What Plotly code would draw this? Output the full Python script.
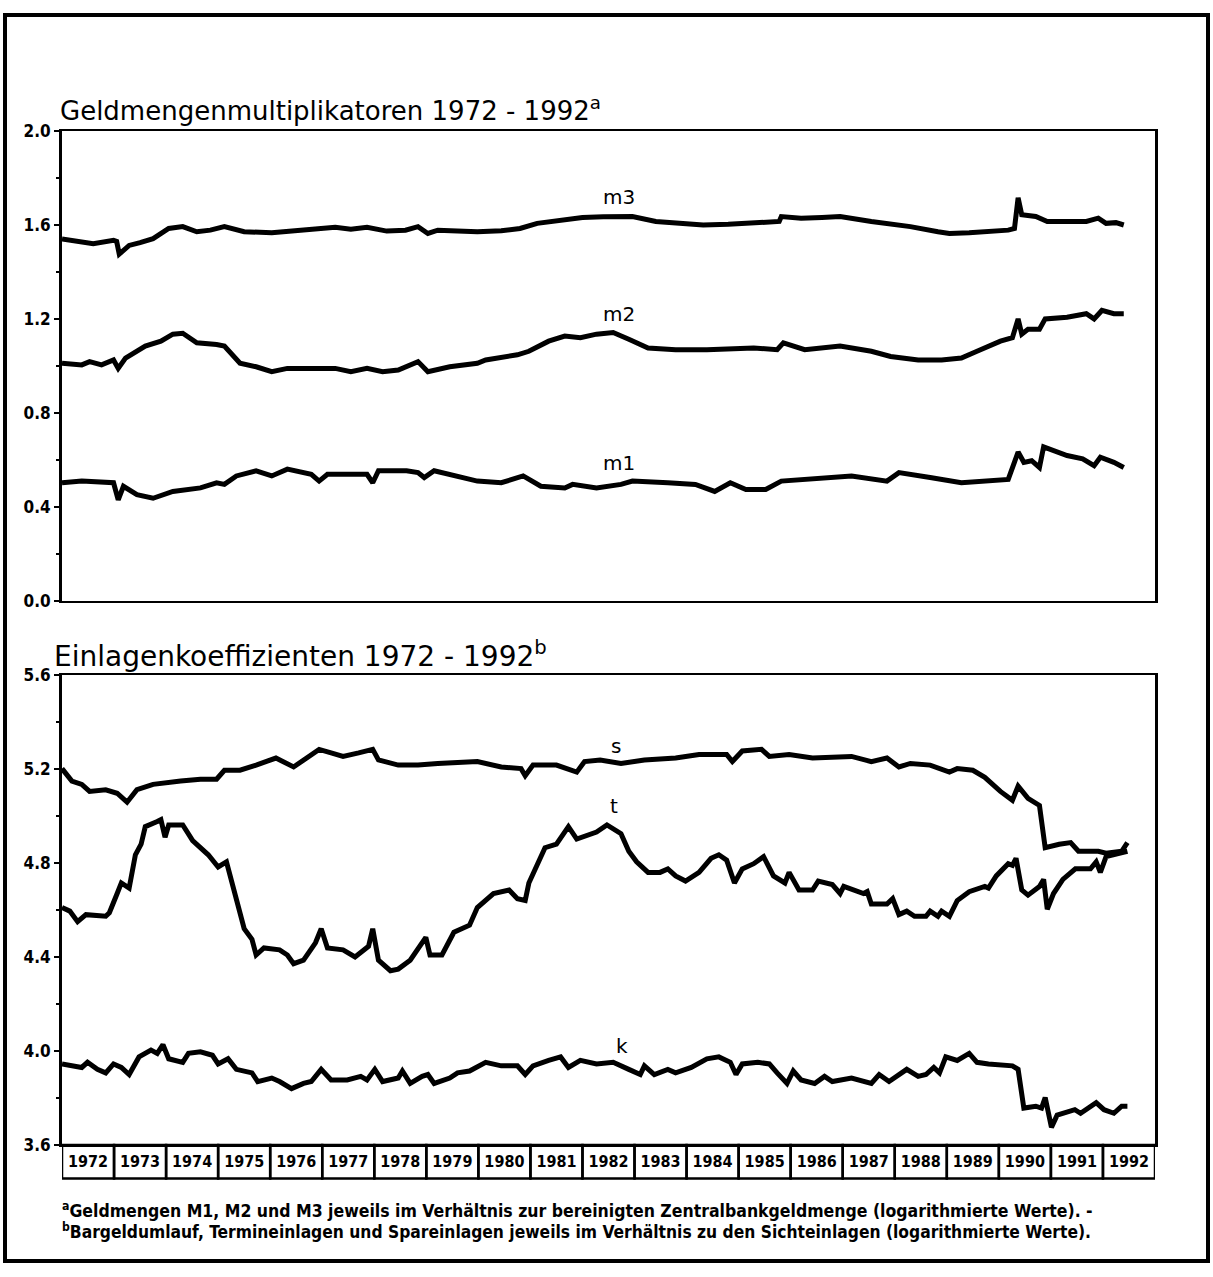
import plotly.graph_objects as go

# ---------------- data (decimal years, log values) ----------------
years = list(range(1972, 1993))
year_labels = [str(y) for y in years]
top_ticks = [0.0, 0.4, 0.8, 1.2, 1.6, 2.0]
bottom_ticks = [3.6, 4.0, 4.4, 4.8, 5.2, 5.6]

m3_t = [1972.0, 1972.3, 1972.6, 1972.99, 1973.05, 1973.1, 1973.29, 1973.5, 1973.75, 1974.05,
        1974.32, 1974.59, 1974.85, 1975.12, 1975.5, 1976.03, 1976.4, 1976.79, 1977.25, 1977.55,
        1977.86, 1978.24, 1978.6, 1978.84, 1979.03, 1979.22, 1979.6, 1979.98, 1980.44, 1980.8,
        1981.13, 1981.4, 1981.66, 1982.0, 1982.4, 1982.96, 1983.41, 1983.9, 1984.32, 1984.8,
        1985.29, 1985.78, 1985.82, 1986.2, 1986.6, 1986.95, 1987.55, 1987.9, 1988.3, 1988.83,
        1989.05, 1989.43, 1989.8, 1990.18, 1990.3, 1990.37, 1990.44, 1990.71, 1990.93, 1991.3,
        1991.68, 1991.91, 1992.06, 1992.25, 1992.4]
m3_v = [1.54, 1.53, 1.52, 1.535, 1.53, 1.476, 1.513, 1.525, 1.542, 1.585,
        1.593, 1.571, 1.578, 1.593, 1.571, 1.567, 1.575, 1.581, 1.59, 1.582,
        1.59, 1.574, 1.578, 1.593, 1.564, 1.578, 1.572, 1.571, 1.575, 1.585,
        1.607, 1.615, 1.625, 1.632, 1.635, 1.636, 1.615, 1.605, 1.6, 1.603,
        1.607, 1.615, 1.636, 1.629, 1.632, 1.636, 1.615, 1.605, 1.593, 1.571,
        1.564, 1.567, 1.572, 1.578, 1.585, 1.716, 1.644, 1.636, 1.615, 1.613,
        1.615, 1.629, 1.607, 1.61, 1.6]

m2_t = [1972.0, 1972.38, 1972.53, 1972.76, 1972.99, 1973.08, 1973.22, 1973.6, 1973.9, 1974.13,
        1974.32, 1974.59, 1974.97, 1975.12, 1975.42, 1975.73, 1976.03, 1976.33, 1976.79, 1977.25,
        1977.55, 1977.86, 1978.16, 1978.46, 1978.84, 1979.03, 1979.45, 1979.98, 1980.14, 1980.75,
        1980.97, 1981.35, 1981.66, 1981.96, 1982.27, 1982.59, 1982.89, 1983.26, 1983.79, 1984.39,
        1985.29, 1985.74, 1985.86, 1986.27, 1986.95, 1987.55, 1987.92, 1988.45, 1988.9, 1989.28,
        1989.58, 1990.03, 1990.26, 1990.37, 1990.44, 1990.56, 1990.78, 1990.89, 1991.31, 1991.68,
        1991.83, 1991.98, 1992.21, 1992.4]
m2_v = [1.011, 1.004, 1.018, 1.004, 1.025, 0.989, 1.033, 1.084, 1.105, 1.135,
        1.139, 1.098, 1.091, 1.084, 1.011, 0.996, 0.975, 0.989, 0.989, 0.989,
        0.975, 0.989, 0.975, 0.982, 1.018, 0.975, 0.996, 1.011, 1.025, 1.047,
        1.062, 1.105, 1.127, 1.12, 1.135, 1.142, 1.113, 1.076, 1.069, 1.069,
        1.076, 1.069, 1.098, 1.069, 1.084, 1.062, 1.04, 1.025, 1.025, 1.033,
        1.062, 1.105, 1.12, 1.2, 1.135, 1.156, 1.156, 1.2, 1.207, 1.222,
        1.2, 1.236, 1.222, 1.222]

m1_t = [1972.0, 1972.38, 1972.99, 1973.08, 1973.18, 1973.44, 1973.75, 1974.13, 1974.66, 1974.97,
        1975.12, 1975.35, 1975.73, 1976.03, 1976.33, 1976.79, 1976.94, 1977.1, 1977.86, 1977.97,
        1978.08, 1978.62, 1978.84, 1978.96, 1979.15, 1979.98, 1980.44, 1980.86, 1981.2, 1981.66,
        1981.81, 1982.27, 1982.74, 1982.96, 1983.64, 1984.17, 1984.54, 1984.84, 1985.14, 1985.52,
        1985.82, 1986.35, 1987.17, 1987.85, 1988.08, 1988.68, 1989.28, 1990.18, 1990.37, 1990.48,
        1990.63, 1990.78, 1990.86, 1991.31, 1991.61, 1991.83, 1991.95, 1992.21, 1992.4]
m1_v = [0.502, 0.509, 0.502, 0.429, 0.487, 0.451, 0.436, 0.465, 0.48, 0.502,
        0.495, 0.531, 0.553, 0.531, 0.56, 0.538, 0.509, 0.538, 0.538, 0.502,
        0.553, 0.553, 0.545, 0.524, 0.553, 0.509, 0.502, 0.531, 0.487, 0.48,
        0.495, 0.48, 0.495, 0.509, 0.502, 0.495, 0.465, 0.502, 0.473, 0.473,
        0.509, 0.516, 0.531, 0.509, 0.545, 0.524, 0.502, 0.516, 0.633, 0.589,
        0.596, 0.567, 0.655, 0.618, 0.604, 0.575, 0.611, 0.589, 0.567]

s_t = [1972.0, 1972.19, 1972.38, 1972.53, 1972.84, 1973.06, 1973.25, 1973.44, 1973.75, 1973.98,
       1974.28, 1974.66, 1974.97, 1975.12, 1975.42, 1975.73, 1976.11, 1976.45, 1976.71, 1976.94,
       1977.17, 1977.4, 1977.7, 1977.97, 1978.08, 1978.46, 1978.84, 1979.22, 1979.98, 1980.44,
       1980.82, 1980.9, 1981.05, 1981.5, 1981.89, 1982.04, 1982.34, 1982.74, 1983.19, 1983.79,
       1984.24, 1984.77, 1984.88, 1985.07, 1985.44, 1985.59, 1985.97, 1986.42, 1987.17, 1987.55,
       1987.85, 1988.08, 1988.3, 1988.68, 1989.05, 1989.2, 1989.5, 1989.73, 1990.03, 1990.26,
       1990.37, 1990.56, 1990.78, 1990.89, 1991.16, 1991.38, 1991.53, 1991.91, 1992.06, 1992.36,
       1992.47]
s_v = [5.203, 5.15, 5.136, 5.106, 5.113, 5.098, 5.06, 5.113, 5.136, 5.143,
       5.15, 5.158, 5.158, 5.196, 5.196, 5.218, 5.248, 5.21, 5.248, 5.285,
       5.27, 5.255, 5.27, 5.285, 5.24, 5.218, 5.218, 5.225, 5.233, 5.21,
       5.203, 5.173, 5.218, 5.218, 5.188, 5.233, 5.24, 5.225, 5.24, 5.248,
       5.263, 5.263, 5.233, 5.278, 5.285, 5.255, 5.263, 5.248, 5.255, 5.233,
       5.248, 5.21, 5.225, 5.218, 5.188, 5.203, 5.196, 5.166, 5.106, 5.068,
       5.128, 5.076, 5.046, 4.866, 4.881, 4.888, 4.851, 4.851, 4.843, 4.851,
       4.888]

t_t = [1972.0, 1972.15, 1972.3, 1972.46, 1972.84, 1972.91, 1973.06, 1973.14, 1973.29, 1973.41,
       1973.52, 1973.6, 1973.83, 1973.9, 1973.98, 1974.05, 1974.32, 1974.51, 1974.81, 1975.0,
       1975.16, 1975.27, 1975.42, 1975.5, 1975.65, 1975.73, 1975.88, 1976.18, 1976.33, 1976.45,
       1976.64, 1976.87, 1976.98, 1977.1, 1977.4, 1977.63, 1977.89, 1977.97, 1978.08, 1978.31,
       1978.46, 1978.69, 1978.99, 1979.07, 1979.3, 1979.53, 1979.83, 1979.98, 1980.29, 1980.59,
       1980.75, 1980.9, 1980.97, 1981.28, 1981.5, 1981.73, 1981.89, 1982.27, 1982.47, 1982.74,
       1982.89, 1983.04, 1983.26, 1983.49, 1983.64, 1983.79, 1983.98, 1984.24, 1984.47, 1984.62,
       1984.77, 1984.92, 1985.07, 1985.29, 1985.48, 1985.67, 1985.89, 1985.97, 1986.16, 1986.42,
       1986.53, 1986.8, 1986.95, 1987.02, 1987.4, 1987.47, 1987.55, 1987.85, 1987.96, 1988.08,
       1988.23, 1988.38, 1988.6, 1988.68, 1988.83, 1988.9, 1989.05, 1989.2, 1989.43, 1989.73,
       1989.8, 1989.95, 1990.18, 1990.26, 1990.33, 1990.44, 1990.56, 1990.78, 1990.86, 1990.93,
       1991.05, 1991.23, 1991.47, 1991.76, 1991.87, 1991.95, 1992.06, 1992.29, 1992.47]
t_v = [4.611, 4.596, 4.551, 4.581, 4.574, 4.589, 4.671, 4.716, 4.694, 4.836,
       4.881, 4.956, 4.978, 4.986, 4.911, 4.963, 4.963, 4.896, 4.836, 4.784,
       4.806, 4.716, 4.596, 4.521, 4.476, 4.409, 4.439, 4.431, 4.409, 4.372,
       4.387, 4.461, 4.521, 4.439, 4.431, 4.401, 4.446, 4.521, 4.387, 4.342,
       4.349, 4.387, 4.484, 4.409, 4.409, 4.506, 4.536, 4.611, 4.671, 4.686,
       4.649, 4.641, 4.716, 4.866, 4.881, 4.956, 4.903, 4.933, 4.963, 4.926,
       4.851, 4.806, 4.761, 4.761, 4.776, 4.746, 4.724, 4.761, 4.821, 4.836,
       4.813, 4.716, 4.776, 4.798, 4.828, 4.746, 4.716, 4.761, 4.686, 4.686,
       4.724, 4.709, 4.671, 4.701, 4.671, 4.679, 4.626, 4.626, 4.649, 4.581,
       4.596, 4.574, 4.574, 4.596, 4.574, 4.596, 4.574, 4.641, 4.679, 4.701,
       4.694, 4.746, 4.798, 4.791, 4.821, 4.686, 4.664, 4.701, 4.731, 4.604,
       4.671, 4.731, 4.776, 4.776, 4.806, 4.761, 4.828, 4.843, 4.851]

k_t = [1972.0, 1972.38, 1972.49, 1972.68, 1972.84, 1972.99, 1973.14, 1973.29, 1973.48, 1973.71,
       1973.83, 1973.94, 1974.05, 1974.32, 1974.43, 1974.66, 1974.89, 1975.0, 1975.19, 1975.35,
       1975.65, 1975.76, 1976.03, 1976.18, 1976.41, 1976.64, 1976.79, 1976.98, 1977.17, 1977.48,
       1977.74, 1977.86, 1978.01, 1978.16, 1978.46, 1978.54, 1978.69, 1978.92, 1979.03, 1979.15,
       1979.45, 1979.6, 1979.83, 1980.14, 1980.44, 1980.75, 1980.9, 1981.05, 1981.35, 1981.58,
       1981.73, 1981.96, 1982.27, 1982.59, 1982.89, 1983.11, 1983.19, 1983.38, 1983.64, 1983.79,
       1984.09, 1984.39, 1984.62, 1984.84, 1984.95, 1985.07, 1985.37, 1985.59, 1985.74, 1985.93,
       1986.05, 1986.2, 1986.46, 1986.65, 1986.8, 1987.17, 1987.55, 1987.7, 1987.89, 1988.23,
       1988.45, 1988.6, 1988.75, 1988.86, 1988.98, 1989.2, 1989.43, 1989.58, 1989.8, 1990.11,
       1990.26, 1990.37, 1990.48, 1990.71, 1990.82, 1990.89, 1991.01, 1991.12, 1991.46, 1991.57,
       1991.87, 1992.02, 1992.21, 1992.36, 1992.47]
k_v = [3.945, 3.93, 3.952, 3.922, 3.907, 3.945, 3.93, 3.9, 3.975, 4.004,
       3.99, 4.027, 3.967, 3.952, 3.99, 3.997, 3.982, 3.945, 3.967, 3.922,
       3.907, 3.87, 3.885, 3.87, 3.84, 3.862, 3.87, 3.922, 3.877, 3.877,
       3.892, 3.877, 3.922, 3.87, 3.885, 3.915, 3.862, 3.892, 3.9, 3.862,
       3.885, 3.907, 3.915, 3.952, 3.937, 3.937, 3.9, 3.937, 3.96, 3.975,
       3.93, 3.96, 3.945, 3.952, 3.922, 3.9, 3.937, 3.9, 3.922, 3.907,
       3.93, 3.967, 3.975, 3.952, 3.9, 3.945, 3.952, 3.945, 3.907, 3.862,
       3.915, 3.877, 3.862, 3.892, 3.87, 3.885, 3.862, 3.9, 3.87, 3.922,
       3.892, 3.9, 3.93, 3.907, 3.975, 3.96, 3.99, 3.952, 3.945, 3.937,
       3.937, 3.922, 3.757, 3.765, 3.757, 3.802, 3.675, 3.727, 3.75, 3.735,
       3.78, 3.75, 3.735, 3.765, 3.765]

series_top = [("m3", m3_t, m3_v), ("m2", m2_t, m2_v), ("m1", m1_t, m1_v)]
series_bottom = [("s", s_t, s_v), ("t", t_t, t_v), ("k", k_t, k_v)]
for _, a, b in series_top + series_bottom:
    assert len(a) == len(b)

# ---------------- figure ----------------
W, H = 1213, 1277
px = lambda v: v / W
py = lambda v: 1 - v / H

NARROW = "Liberation Sans Narrow, DejaVu Sans Condensed, Arial Narrow, sans-serif"
TICKFONT = dict(family=NARROW, size=17, color="black", weight="bold")
YEARFONT = dict(family=NARROW, size=16, color="black", weight="bold")
TITLEFAM = "DejaVu Sans, Liberation Sans, sans-serif"
LINE = dict(color="black", width=5)

fig = go.Figure()
for name, xs, ys in series_top:
    fig.add_trace(go.Scatter(x=xs, y=ys, mode="lines", line=LINE, name=name,
                             xaxis="x", yaxis="y", hoverinfo="skip"))
for name, xs, ys in series_bottom:
    fig.add_trace(go.Scatter(x=xs, y=ys, mode="lines", line=LINE, name=name,
                             xaxis="x2", yaxis="y2", hoverinfo="skip"))

xdom = [px(62), px(1155)]
common_x = dict(range=[years[0], years[-1] + 1], showgrid=False, zeroline=False,
                showline=True, mirror=True, linecolor="black", linewidth=2.5)
common_y = dict(showgrid=False, zeroline=False, showline=True, mirror=True,
                linecolor="black", linewidth=3, ticks="outside", ticklen=5,
                tickwidth=2, tickcolor="black", tickfont=TICKFONT, tickformat=".1f",
                minor=dict(ticks="outside", ticklen=3, tickwidth=2, tickcolor="black",
                           dtick=0.2, showgrid=False))

fig.update_layout(
    width=W, height=H, margin=dict(l=0, r=0, t=0, b=0),
    paper_bgcolor="white", plot_bgcolor="white", showlegend=False,
    xaxis=dict(domain=xdom, anchor="y", showticklabels=False, ticks="", **common_x),
    yaxis=dict(domain=[py(600), py(123)], anchor="x", range=[top_ticks[0], top_ticks[-1]],
               tickvals=top_ticks, **common_y),
    xaxis2=dict(domain=xdom, anchor="y2", ticks="", tickvals=[y + 0.5 for y in years],
                ticktext=year_labels, tickfont=YEARFONT, **common_x),
    yaxis2=dict(domain=[py(1153), py(676)], anchor="x2",
                range=[bottom_ticks[0], bottom_ticks[-1]], tickvals=bottom_ticks, **common_y),
)

shapes = []
# outer frame
shapes.append(dict(type="rect", xref="paper", yref="paper", x0=px(5), x1=px(1208),
                   y0=py(1271), y1=py(5), line=dict(color="black", width=4)))
# year boxes under the lower panel
for y in years:
    shapes.append(dict(type="rect", xref="x2", yref="paper", x0=y, x1=y + 1,
                       y0=py(1187), y1=py(1153), line=dict(color="black", width=2.5)))
fig.update_layout(shapes=shapes)

annotations = [
    dict(text="Geldmengenmultiplikatoren 1972 - 1992<sup>a</sup>", x=px(58), y=py(101),
         xanchor="left", yanchor="middle",
         font=dict(family=TITLEFAM, size=26, color="black")),
    dict(text="Einlagenkoeffizienten 1972 - 1992<sup>b</sup>", x=px(52), y=py(655),
         xanchor="left", yanchor="middle",
         font=dict(family=TITLEFAM, size=28, color="black")),
    dict(text="<sup>a</sup>Geldmengen M1, M2 und M3 jeweils im Verhältnis zur bereinigten "
              "Zentralbankgeldmenge (logarithmierte Werte). -",
         x=px(60), y=py(1219), xanchor="left", yanchor="middle",
         font=dict(TICKFONT, size=17.5)),
    dict(text="<sup>b</sup>Bargeldumlauf, Termineinlagen und Spareinlagen jeweils im Verhältnis "
              "zu den Sichteinlagen (logarithmierte Werte).",
         x=px(60), y=py(1240), xanchor="left", yanchor="middle",
         font=dict(TICKFONT, size=17.3)),
]
for a in annotations:
    a.update(xref="paper", yref="paper", showarrow=False)

# series labels (data coordinates)
LABFONT = dict(family=TITLEFAM, size=20, color="black")
for txt, xx, yy, ax in [("m3", 1982.7, 1.72, "1"), ("m2", 1982.7, 1.22, "1"),
                        ("m1", 1982.7, 0.585, "1"), ("s", 1982.65, 5.30, "2"),
                        ("t", 1982.6, 5.045, "2"), ("k", 1982.75, 4.02, "2")]:
    annotations.append(dict(text=txt, x=xx, y=yy, xref="x" if ax == "1" else "x2",
                            yref="y" if ax == "1" else "y2", showarrow=False,
                            font=LABFONT, xanchor="center", yanchor="middle"))

fig.update_layout(annotations=annotations)
fig.write_html("out.html",
               config={"displayModeBar": False, "staticPlot": True},
               post_script="document.body.style.margin='0';"
                           "document.body.style.overflow='hidden';")
